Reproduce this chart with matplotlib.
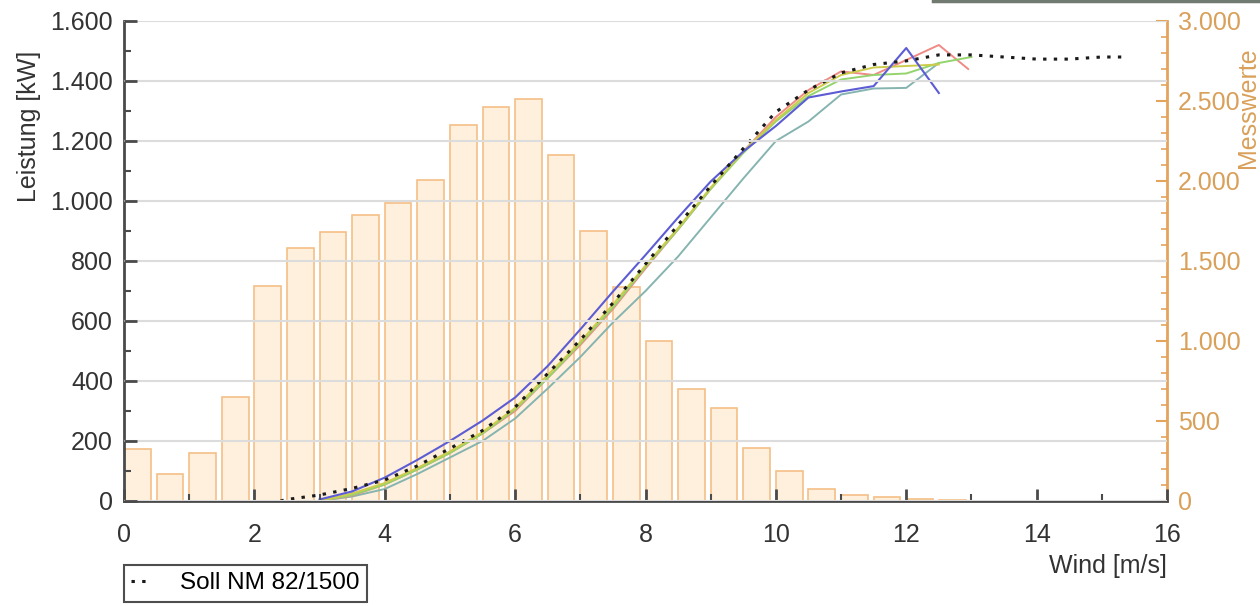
import matplotlib
matplotlib.use("Agg")
import matplotlib.pyplot as plt
from matplotlib.ticker import MultipleLocator, FuncFormatter
from matplotlib.lines import Line2D

plt.rcParams['font.family'] = ['Liberation Sans', 'DejaVu Sans']

# ---- data ----
bar_left = [0.0, 0.5, 1.0, 1.5, 2.0, 2.5, 3.0, 3.5, 4.0, 4.5, 5.0, 5.5, 6.0,
            6.5, 7.0, 7.5, 8.0, 8.5, 9.0, 9.5, 10.0, 10.5, 11.0, 11.5, 12.0, 12.5]
bar_counts = [325, 169, 300, 650, 1344, 1581, 1681, 1788, 1863, 2006, 2350, 2460, 2513,
              2160, 1690, 1335, 1000, 700, 581, 331, 185, 75, 38, 26, 14, 7]

soll_x = [2.4, 2.5, 3.0, 3.5, 4.0, 4.5, 5.0, 5.5, 6.0, 6.5, 7.0, 7.5, 8.0, 8.5, 9.0, 9.5,
          10.0, 10.5, 11.0, 11.5, 12.0, 12.5, 13.0, 13.5, 14.0, 14.5, 15.0, 15.4]
soll_y = [0, 5, 20, 42, 70, 117, 175, 235, 313, 425, 537, 660, 790, 920, 1050, 1175,
          1297, 1370, 1427, 1455, 1467, 1487, 1487, 1480, 1473, 1473, 1480, 1480]

wx = [3.0, 3.5, 4.0, 4.5, 5.0, 5.5, 6.0, 6.5, 7.0, 7.5, 8.0, 8.5, 9.0, 9.5, 10.0, 10.5,
      11.0, 11.5, 12.0, 12.5]
blue_y = [5, 32, 78, 137, 200, 268, 345, 450, 572, 698, 820, 945, 1065, 1165, 1250, 1345,
          1365, 1383, 1510, 1360]
teal_y = [0, 15, 40, 90, 145, 200, 275, 375, 480, 595, 700, 815, 945, 1075, 1200, 1265,
          1355, 1375, 1377, 1460]
yellow_y = [0, 25, 60, 110, 165, 230, 310, 420, 530, 655, 785, 910, 1045, 1165, 1270, 1360,
            1420, 1445, 1450, 1455]
green_x = wx + [13.0]
green_y = [0, 20, 55, 105, 160, 225, 305, 410, 525, 645, 780, 905, 1040, 1160, 1265, 1350,
           1405, 1420, 1425, 1460, 1480]
red_x = wx + [12.95]
red_y = [0, 18, 55, 105, 160, 225, 300, 410, 520, 640, 775, 905, 1040, 1165, 1280, 1370,
         1432, 1420, 1470, 1520, 1440]

# ---- figure ----
fig = plt.figure(figsize=(12.6, 6.06), dpi=100)
ax = fig.add_axes([124/1260, 1-501/606, (1167-124)/1260, (501-21)/606])
ax2 = ax.twinx()
ax2.set_zorder(0)
ax.set_zorder(1)
ax.patch.set_visible(False)

ax2.bar(bar_left, bar_counts, width=0.41, align='edge', color='#fef0dc',
        edgecolor='#f5bf86', linewidth=1.2)
ax2.set_ylim(0, 3000)

ax.plot(wx, teal_y, color='#86b4b0', lw=1.4)
ax.plot(red_x, red_y, color='#f08a84', lw=1.4)
ax.plot(green_x, green_y, color='#94d46e', lw=1.4)
ax.plot(wx, yellow_y, color='#cccc4c', lw=1.4)
ax.plot(wx, blue_y, color='#5c5cd4', lw=1.5)
ax.plot(soll_x, soll_y, color='#1a1a1a', lw=2.2, linestyle=(0, (1.1, 2.4)),
        label='Soll NM 82/1500')

ax.set_xlim(0, 16)
ax.set_ylim(0, 1600)

fmt = FuncFormatter(lambda v, p: f"{int(round(v)):,}".replace(',', '.'))
ax.yaxis.set_major_locator(MultipleLocator(200))
ax.yaxis.set_minor_locator(MultipleLocator(100))
ax.yaxis.set_major_formatter(fmt)
ax.xaxis.set_major_locator(MultipleLocator(2))
ax.xaxis.set_minor_locator(MultipleLocator(1))
ax2.yaxis.set_major_locator(MultipleLocator(500))
ax2.yaxis.set_minor_locator(MultipleLocator(100))
ax2.yaxis.set_major_formatter(fmt)

ax.grid(axis='y', which='major', color='#dcdcdc', lw=1.5)
ax.set_axisbelow(False)

dark = '#4a4a4a'
orange = '#e3a45c'
for s in ['top', 'right']:
    ax.spines[s].set_visible(False)
ax.spines['left'].set_color(dark)
ax.spines['bottom'].set_color(dark)
ax.spines['left'].set_linewidth(2)
ax.spines['bottom'].set_linewidth(2)
for s in ['top', 'left', 'bottom']:
    ax2.spines[s].set_visible(False)
ax2.spines['right'].set_color(orange)
ax2.spines['right'].set_linewidth(2)

ax.tick_params(axis='both', which='major', direction='in', length=9, width=2,
               color=dark, labelsize=18, labelcolor='#333333')
ax.tick_params(axis='y', which='major', pad=8)
ax.tick_params(axis='x', which='major', pad=16)
ax.tick_params(axis='both', which='minor', direction='in', length=5, width=1.5, color=dark)
ax.tick_params(axis='y', which='both', right=False)
ax2.tick_params(axis='y', which='major', direction='in', length=8, width=1.5,
                color=orange, labelsize=18, labelcolor='#d9a05a', pad=8)
ax2.tick_params(axis='y', which='minor', direction='in', length=4, width=1.2, color=orange)

ax.set_ylabel('Leistung [kW]', fontsize=18, color='#333333', va='center')
ax.yaxis.set_label_coords(-0.091, 0.78)
ax.set_xlabel('Wind [m/s]', fontsize=18, color='#333333', ha='right', va='center')
ax.xaxis.set_label_coords(1.0, -0.135)
ax2.set_ylabel('Messwerte', fontsize=18, color='#d9a05a', rotation=90, va='center')
ax2.yaxis.set_label_coords(1.078, 0.82)

leg = ax.legend(loc='upper left', bbox_to_anchor=(124/1260, 1-565/606),
                bbox_transform=fig.transFigure, fontsize=17.5, frameon=True,
                fancybox=False, edgecolor='#222222', handlelength=0.8,
                handletextpad=1.2, borderpad=0.3, borderaxespad=0)
leg.get_frame().set_linewidth(1.5)

fig.add_artist(Line2D([933/1260, 1.0], [1-1/606, 1-1/606], transform=fig.transFigure,
                      color='#707a70', lw=2.5))

fig.savefig('out.png', dpi=100)
